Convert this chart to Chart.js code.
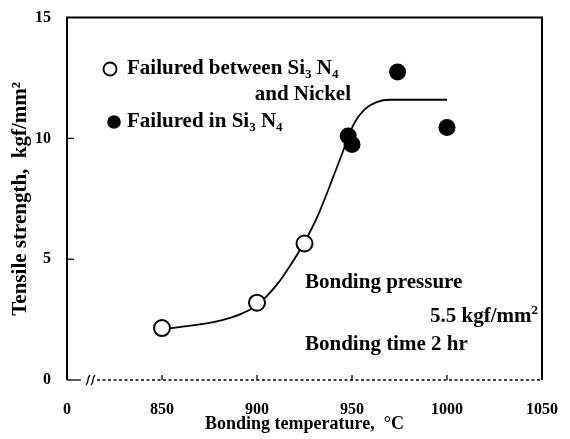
<!DOCTYPE html>
<html><head><meta charset="utf-8">
<script src="https://cdn.jsdelivr.net/npm/chart.js@4.4.1/dist/chart.umd.min.js"></script>
<style>html,body{margin:0;padding:0;background:#fff}#wrap{width:570px;height:439px;position:relative}</style>
</head><body><div id="wrap"><canvas id="c"></canvas></div>
<script>
// ---- data ----
const xTickValues = [800, 850, 900, 950, 1000, 1050];
const xTickLabels = ['0', '850', '900', '950', '1000', '1050'];
const yTickValues = [0, 5, 10, 15];
const yTickLabels = ['0', '5', '10', '15'];
const openTemps = [850, 900, 925];
const openStrength = [2.15, 3.2, 5.65];
const filledTemps = [948, 950, 974, 1000];
const filledStrength = [10.1, 9.75, 12.75, 10.45];
const curveTemps = [850, 865, 880, 892, 900, 911, 918, 925, 932, 944, 951, 956, 963, 970, 1000];
const curveStrength = [2.1, 2.25, 2.45, 2.75, 3.1, 4.0, 4.8, 5.7, 6.8, 9.2, 10.6, 11.15, 11.5, 11.6, 11.6];

const FONT = '"Liberation Serif", "DejaVu Serif", serif';
const zip = (xs, ys) => xs.map((x, i) => ({x, y: ys[i]}));

function richText(ctx, parts, x, y, align, size) {
  const sub = size * 0.62;
  let w = 0;
  parts.forEach(p => {
    ctx.font = 'bold ' + (p[1] ? sub : size) + 'px ' + FONT;
    w += ctx.measureText(p[0]).width;
  });
  let cx = align === 'right' ? x - w : x;
  ctx.textBaseline = 'middle';
  ctx.textAlign = 'left';
  parts.forEach(p => {
    ctx.font = 'bold ' + (p[1] ? sub : size) + 'px ' + FONT;
    const dy = p[1] === 'sub' ? size * 0.28 : (p[1] === 'sup' ? -size * 0.3 : 0);
    ctx.fillText(p[0], cx, y + dy);
    cx += ctx.measureText(p[0]).width;
  });
}

const decor = {
  id: 'decor',
  afterDatasetsDraw(chart) {
    const {ctx, chartArea: ca, scales: {x, y}} = chart;
    ctx.save();
    ctx.strokeStyle = '#000';
    ctx.fillStyle = '#000';
    // frame
    ctx.lineWidth = 2;
    ctx.beginPath();
    ctx.moveTo(ca.left, ca.bottom); ctx.lineTo(ca.left, ca.top);
    ctx.lineTo(ca.right, ca.top); ctx.lineTo(ca.right, ca.bottom);
    ctx.stroke();
    // bottom axis with break
    ctx.lineWidth = 1.3;
    ctx.beginPath();
    ctx.moveTo(ca.left, ca.bottom); ctx.lineTo(ca.left + 14, ca.bottom);
    ctx.stroke();
    ctx.setLineDash([3, 2.5]);
    ctx.beginPath();
    ctx.moveTo(ca.left + 30, ca.bottom); ctx.lineTo(ca.right, ca.bottom);
    ctx.stroke();
    ctx.setLineDash([]);
    ctx.lineWidth = 1.4;
    [ca.left + 21, ca.left + 26].forEach(bx => {
      ctx.beginPath();
      ctx.moveTo(bx - 2, ca.bottom + 5);
      ctx.bezierCurveTo(bx + 1, ca.bottom + 2, bx - 1, ca.bottom - 2, bx + 2, ca.bottom - 5);
      ctx.stroke();
    });
    // inside ticks
    ctx.lineWidth = 1.3;
    [850, 900, 950, 1000].forEach(v => {
      const px = x.getPixelForValue(v);
      ctx.beginPath(); ctx.moveTo(px, ca.bottom); ctx.lineTo(px, ca.bottom - 5); ctx.stroke();
    });
    [5, 10].forEach(v => {
      const py = y.getPixelForValue(v);
      ctx.beginPath(); ctx.moveTo(ca.left, py); ctx.lineTo(ca.left + 7, py); ctx.stroke();
    });
    // legend
    ctx.lineWidth = 1.8;
    ctx.beginPath(); ctx.arc(110, 69, 6.5, 0, Math.PI * 2);
    ctx.fillStyle = '#fff'; ctx.fill(); ctx.stroke();
    ctx.fillStyle = '#000';
    richText(ctx, [['Failured between Si'], ['3', 'sub'], [' N'], ['4', 'sub']], 127, 69, 'left', 21);
    richText(ctx, [['and Nickel']], 351, 95, 'right', 21);
    ctx.beginPath(); ctx.arc(114, 122, 6.8, 0, Math.PI * 2); ctx.fill();
    richText(ctx, [['Failured in Si'], ['3', 'sub'], [' N'], ['4', 'sub']], 127, 122, 'left', 21);
    // conditions
    richText(ctx, [['Bonding pressure']], 305, 283, 'left', 21);
    richText(ctx, [['5.5 kgf/mm'], ['2', 'sup']], 538, 317, 'right', 21);
    richText(ctx, [['Bonding time 2 hr']], 305, 345, 'left', 21);
    ctx.restore();
  }
};

new Chart(document.getElementById('c'), {
  type: 'scatter',
  data: {
    datasets: [
      {
        type: 'line', label: 'fit', data: zip(curveTemps, curveStrength),
        borderColor: '#000', borderWidth: 1.8, pointRadius: 0,
        cubicInterpolationMode: 'monotone', fill: false, order: 3
      },
      {
        label: 'Failured between Si3N4 and Nickel', data: zip(openTemps, openStrength),
        pointRadius: 8, pointBackgroundColor: '#fff', pointBorderColor: '#000',
        pointBorderWidth: 2, order: 1
      },
      {
        label: 'Failured in Si3N4', data: zip(filledTemps, filledStrength),
        pointRadius: 8.5, pointBackgroundColor: '#000', pointBorderColor: '#000',
        pointBorderWidth: 0, order: 1
      }
    ]
  },
  options: {
    responsive: true, maintainAspectRatio: false, animation: false,
    devicePixelRatio: 1,
    layout: {padding: {top: 17, right: 22, left: 0, bottom: 0}},
    plugins: {legend: {display: false}, tooltip: {enabled: false}},
    scales: {
      x: {
        type: 'linear', min: 800, max: 1050,
        afterBuildTicks: s => { s.ticks = xTickValues.map(v => ({value: v})); },
        afterFit: s => { s.height = 59; },
        grid: {display: false}, border: {display: false},
        ticks: {
          padding: 12, color: '#000', font: {family: FONT, size: 16, weight: 'bold'},
          callback: (v) => xTickLabels[xTickValues.indexOf(v)]
        },
        title: {display: true, text: 'Bonding temperature,  °C', color: '#000',
          font: {family: FONT, size: 18, weight: 'bold'}, padding: {top: 0, bottom: 4}}
      },
      y: {
        type: 'linear', min: 0, max: 15,
        afterBuildTicks: s => { s.ticks = yTickValues.map(v => ({value: v})); },
        afterFit: s => { s.width = 67; },
        grid: {display: false}, border: {display: false},
        ticks: {
          padding: 8, color: '#000', font: {family: FONT, size: 16, weight: 'bold'},
          callback: (v) => yTickLabels[yTickValues.indexOf(v)]
        },
        title: {display: true, text: 'Tensile strength,  kgf/mm²', color: '#000',
          font: {family: FONT, size: 21, weight: 'bold'}, padding: {top: 8, bottom: 0}}
      }
    }
  },
  plugins: [decor]
});
</script></body></html>
